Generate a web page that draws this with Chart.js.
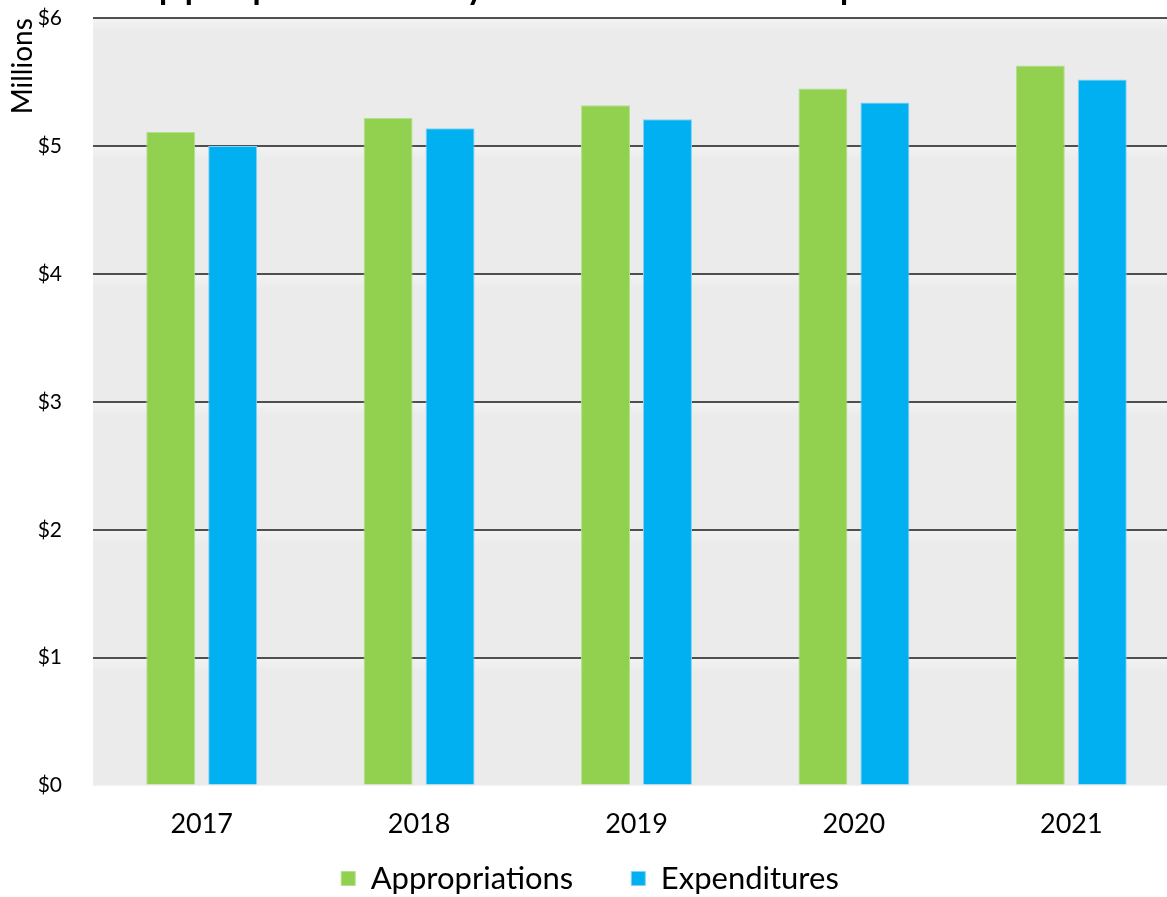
<!DOCTYPE html>
<html>
<head>
<meta charset="utf-8">
<script src="https://cdn.jsdelivr.net/npm/chart.js@4.4.1/dist/chart.umd.min.js"></script>
<style>
  html, body { margin: 0; padding: 0; background: #fff; }
  #wrap { position: relative; width: 1167px; height: 897px; overflow: hidden; }
  #chart { position: absolute; left: 0; top: -45px; }
</style>
</head>
<body>
<div id="wrap"><canvas id="chart" width="1190" height="998"></canvas></div>
<script>
const years = ["2017", "2018", "2019", "2020", "2021"];
const appropriations = [5.11, 5.22, 5.32, 5.45, 5.63];
const expenditures = [5.00, 5.14, 5.21, 5.34, 5.52];
const yTicks = [0, 1, 2, 3, 4, 5, 6];

const FONT = "Lato, 'Noto Sans', sans-serif";

// grey plot area, with a faint light band under each gridline
const plotBg = {
  id: "plotBg",
  beforeDraw(chart) {
    const { ctx, chartArea: a } = chart;
    const y = chart.scales.y;
    ctx.save();
    ctx.fillStyle = "#ebebeb";
    ctx.fillRect(a.left, a.top, a.right - a.left, a.bottom - a.top);
    yTicks.slice(1).forEach(v => {
      const py = y.getPixelForValue(v);
      const g = ctx.createLinearGradient(0, py, 0, py + 14);
      g.addColorStop(0, "#f3f3f3");
      g.addColorStop(1, "#ebebeb");
      ctx.fillStyle = g;
      ctx.fillRect(a.left, py, a.right - a.left, 14);
    });
    ctx.restore();
  }
};

// pull the legend up closer to the year labels
const legendShift = {
  id: "legendShift",
  afterLayout(chart) {
    chart.legend.top -= 49;
    chart.legend.bottom -= 49;
  }
};

new Chart(document.getElementById("chart"), {
  type: "bar",
  data: {
    labels: years,
    datasets: [
      { label: "Appropriations", data: appropriations, backgroundColor: "#92d050", borderColor: "#b4e08c", borderWidth: 1 },
      { label: "Expenditures", data: expenditures, backgroundColor: "#00b0f0", borderColor: "#7fd3f5", borderWidth: 1 }
    ]
  },
  options: {
    responsive: false,
    animation: false,
    devicePixelRatio: 1,
    layout: { padding: { left: 0, right: 10, top: 0, bottom: 0 } },
    datasets: { bar: { categoryPercentage: 0.57, barPercentage: 0.79 } },
    scales: {
      x: {
        grid: { display: false },
        border: { display: false },
        ticks: { color: "#000", font: { family: FONT, size: 27 }, padding: 14 }
      },
      y: {
        min: 0, max: 6,
        afterBuildTicks: axis => { axis.ticks = yTicks.map(v => ({ value: v })); },
        afterFit: axis => { axis.width = 93; },
        grid: {
          drawTicks: false,
          lineWidth: 2,
          color: c => c.tick && c.tick.value === 0 ? "rgba(0,0,0,0)" : "#505050"
        },
        border: { display: false },
        ticks: { color: "#000", font: { family: FONT, size: 21 }, padding: 31, callback: v => "$" + v },
        title: { display: true, text: "Millions", align: "end", color: "#000", font: { family: FONT, size: 28 }, padding: { top: 6, bottom: 0 } }
      }
    },
    plugins: {
      title: {
        display: true,
        text: "Appropriations by Fiscal Year vs. Expenditures",
        color: "#000",
        font: { family: FONT, size: 46, weight: "normal" },
        padding: { top: 0, bottom: 8 }
      },
      legend: {
        position: "bottom",
        labels: { color: "#000", font: { family: FONT, size: 31 }, boxWidth: 14, boxHeight: 14, padding: 58 }
      },
      tooltip: { enabled: false }
    }
  },
  plugins: [plotBg, legendShift]
});
</script>
</body>
</html>
